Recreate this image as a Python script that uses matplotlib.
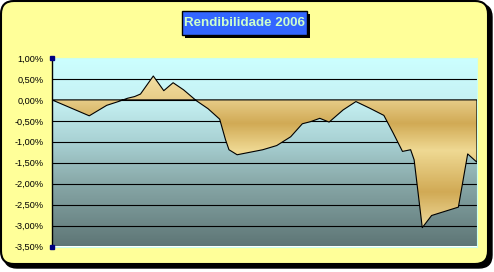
import matplotlib
matplotlib.use("Agg")
import matplotlib.pyplot as plt
import numpy as np
from matplotlib.patches import FancyBboxPatch, Rectangle
from matplotlib.colors import LinearSegmentedColormap

# dia do ano e rendibilidade acumulada (%)
dias = [0, 32, 47, 57, 65, 71, 76, 87, 96, 104, 113, 124, 134, 144, 149, 152,
        159, 170, 181, 193, 205, 215, 222, 230, 238, 250, 261, 273, 285, 293,
        301, 308, 311, 318, 326, 349, 357, 365]
rend = [0.00, -0.38, -0.13, -0.04, 0.04, 0.08, 0.14, 0.57, 0.22, 0.41, 0.24,
        -0.02, -0.21, -0.46, -0.95, -1.19, -1.31, -1.25, -1.19, -1.09, -0.88,
        -0.57, -0.52, -0.44, -0.53, -0.24, -0.04, -0.20, -0.37, -0.79, -1.23,
        -1.19, -1.43, -3.05, -2.76, -2.56, -1.29, -1.49]
yticks = [1.0, 0.5, 0.0, -0.5, -1.0, -1.5, -2.0, -2.5, -3.0, -3.5]
titulo = "Rendibilidade 2006"

W, H = 494, 272
fig = plt.figure(figsize=(W / 100, H / 100), dpi=100)
fig.patch.set_facecolor("white")

# chart area frame
bg = fig.add_axes([0, 0, 1, 1])
bg.set_xlim(0, W)
bg.set_ylim(H, 0)
bg.axis("off")
bg.add_patch(FancyBboxPatch((4, 4), 488, 264, boxstyle="round,pad=0,rounding_size=13",
                            facecolor="black", edgecolor="black"))
bg.add_patch(FancyBboxPatch((1, 1), 487, 263, boxstyle="round,pad=0,rounding_size=13",
                            facecolor="#FFFF99", edgecolor="black", lw=1.5))

# title box
bg.add_patch(Rectangle((184.5, 13.5), 125, 24.5, facecolor="black", edgecolor="none"))
bg.add_patch(Rectangle((181.5, 10.5), 125, 24.5, facecolor="#3366FF", edgecolor="black", lw=1))
bg.text(244, 23, titulo, ha="center", va="center", color="#CCFFCC",
        fontsize=9.6, fontweight="bold", family=["Liberation Sans", "DejaVu Sans"])

# plot area
ax = fig.add_axes([52 / W, 1 - 246.5 / H, 425 / W, 188.5 / H])
ymin, ymax = -3.5, 1.0

bg_stops = [(1.0, "#CCFFFF"), (0.0, "#C6F2F4"), (-1.0, "#A9D2D4"),
            (-2.0, "#88A8A8"), (-3.5, "#5E7676")]
cm_bg = LinearSegmentedColormap.from_list(
    "bg", [((v - ymin) / (ymax - ymin), c) for v, c in sorted(bg_stops)])
yy = np.linspace(ymin, ymax, 300).reshape(-1, 1)
ax.imshow(yy, cmap=cm_bg, vmin=ymin, vmax=ymax, origin="lower",
          extent=[0, 365, ymin, ymax], aspect="auto", zorder=0)

for t in yticks[1:-1]:
    ax.axhline(t, color="black", lw=0.8, zorder=1)

fmin, fmax = -3.1, 0.6
fill_stops = [(0.6, "#F3E0A4"), (0.0, "#E6CB86"), (-0.55, "#D1AA55"),
              (-1.2, "#EFD993"), (-2.2, "#D1AA55"), (-3.1, "#F1DDA0")]
cm_fill = LinearSegmentedColormap.from_list(
    "fill", [((v - fmin) / (fmax - fmin), c) for v, c in sorted(fill_stops)])
yf = np.linspace(fmin, fmax, 300).reshape(-1, 1)
im = ax.imshow(yf, cmap=cm_fill, vmin=fmin, vmax=fmax, origin="lower",
               extent=[0, 365, fmin, fmax], aspect="auto", zorder=2)
poly = ax.fill_between(dias, rend, 0, facecolor="none", edgecolor="black",
                       lw=0.8, zorder=3)
im.set_clip_path(poly.get_paths()[0], transform=ax.transData)
ax.plot([dias[-1], dias[-1]], [rend[-1], 0], color="black", lw=0.8, zorder=3)

ax.set_xlim(0, 365)
ax.set_ylim(ymin, ymax)
ax.set_xticks([])
ax.set_yticks(yticks)
ax.set_yticklabels([("%.2f%%" % v).replace(".", ",") for v in yticks],
                   family=["Liberation Sans", "DejaVu Sans"], fontsize=6.6)
ax.tick_params(axis="y", length=0, pad=6)
for s in ["top", "right", "bottom"]:
    ax.spines[s].set_color("#CCFFEE")
    ax.spines[s].set_linewidth(0.8)
ax.spines["left"].set_color("black")
ax.spines["left"].set_linewidth(1)

# selection handles at the axis ends
ax.plot([0, 0], [ymin, ymax], ls="none", marker="s", ms=3.5, color="#000080",
        clip_on=False, zorder=5)

fig.savefig("out.png", dpi=100)
